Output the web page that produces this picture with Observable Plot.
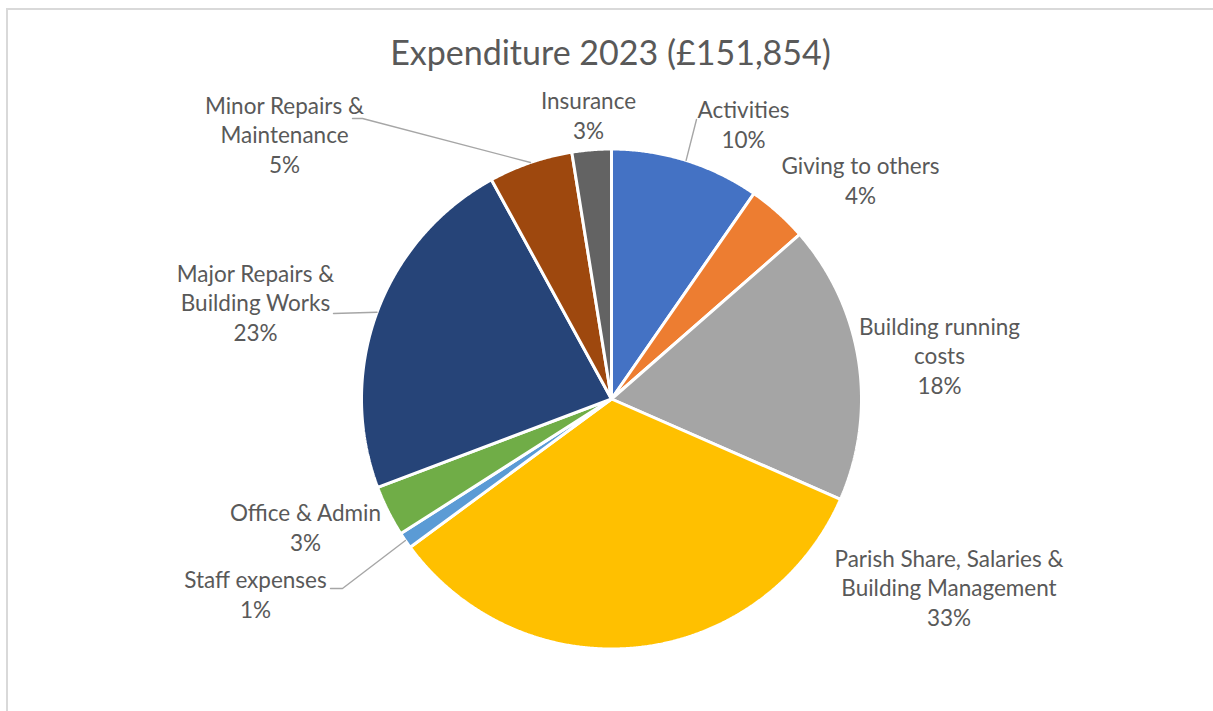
<!DOCTYPE html>
<html>
<head>
<meta charset="utf-8">
<script src="https://cdn.jsdelivr.net/npm/d3@7"></script>
<script src="https://cdn.jsdelivr.net/npm/@observablehq/plot@0.6"></script>
<style>
  html, body { margin: 0; padding: 0; background: #fff; overflow: hidden; width: 1213px; height: 711px; }
  #frame { position: absolute; left: 6px; top: 8px; width: 1205px; height: 720px; border: 2px solid #d9d9d9; background: #fff; }
  #title { position: absolute; left: 0; top: 22px; width: 1205px; text-align: center; font-family: Lato, sans-serif; font-size: 34px; line-height: 40px; color: #595959; white-space: nowrap; }
  #chart { position: absolute; left: 0; top: 72px; }
</style>
</head>
<body>
<div id="frame">
  <div id="title"></div>
  <div id="chart"></div>
</div>
<script>
// ---- data ----
const year = "2023";
const categories = [
  "Activities",
  "Giving to others",
  "Building running costs",
  "Parish Share, Salaries & Building Management",
  "Staff expenses",
  "Office & Admin",
  "Major Repairs & Building Works",
  "Minor Repairs & Maintenance",
  "Insurance"
];
const amounts = [14650, 5950, 27350, 50600, 1600, 5000, 34600, 8250, 3854];
const labelLines = [
  "Activities",
  "Giving to others",
  "Building running\ncosts",
  "Parish Share, Salaries &\nBuilding Management",
  "Staff expenses",
  "Office & Admin",
  "Major Repairs &\nBuilding Works",
  "Minor Repairs &\nMaintenance",
  "Insurance"
];
const colors = ["#4472C4", "#ED7D31", "#A5A5A5", "#FFC000", "#5B9BD5", "#70AD47", "#264478", "#9E480E", "#636363"];

// ---- layout (pixels relative to pie centre) ----
const W = 1205, H = 629, CX = 603, CY = 316.5, R = 250;
const labelAnchor = [
  [132, -251.5], [249, -195.5], [328, -5.5], [337.5, 226.5], [-356, 218.5],
  [-306, 151.5], [-356, -58.5], [-327, -226.5], [-23, -260.5]
];
const leaderAnchors = {
  0: [[85, -279.5]],
  4: [[-269, 189.5], [-281, 189.5]],
  6: [[-278, -85.5]],
  7: [[-249, -280.5], [-259, -280.5]]
};

const total = d3.sum(amounts);
document.getElementById("title").textContent =
  `Expenditure ${year} (£${d3.format(",")(total)})`;

const rows = categories.map((c, i) => ({name: c, amount: amounts[i], i}));
const arcs = d3.pie().sort(null).value(d => d.amount)(rows);

const polys = [];
for (const a of arcs) {
  polys.push({name: a.data.name, x: 0, y: 0});
  const n = Math.max(2, Math.ceil((a.endAngle - a.startAngle) / 0.005));
  for (let k = 0; k <= n; k++) {
    const t = a.startAngle + (a.endAngle - a.startAngle) * k / n;
    polys.push({name: a.data.name, x: R * Math.sin(t), y: -R * Math.cos(t)});
  }
}

const labels = arcs.map(a => {
  const i = a.data.i;
  const pct = Math.round(a.data.amount / total * 100);
  return {x: labelAnchor[i][0], y: labelAnchor[i][1], text: `${labelLines[i]}\n${pct}%`};
});

const leaders = [];
for (const a of arcs) {
  const i = a.data.i;
  if (!leaderAnchors[i]) continue;
  const m = (a.startAngle + a.endAngle) / 2;
  leaders.push({id: i, x: R * Math.sin(m), y: -R * Math.cos(m)});
  for (const p of leaderAnchors[i]) leaders.push({id: i, x: p[0], y: p[1]});
}

const chart = Plot.plot({
  width: W,
  height: H,
  margin: 0,
  style: {background: "transparent", overflow: "visible"},
  x: {domain: [-CX, W - CX], range: [0, W], axis: null},
  y: {domain: [-CY, H - CY], range: [0, H], axis: null},
  color: {domain: categories, range: colors},
  marks: [
    Plot.line(polys, {x: "x", y: "y", z: "name", fill: "name", stroke: "white", strokeWidth: 3, curve: "linear-closed", strokeLinejoin: "miter"}),
    Plot.line(leaders, {x: "x", y: "y", z: "id", stroke: "#a6a6a6", strokeWidth: 1.4, curve: "linear"}),
    Plot.text(labels, {x: "x", y: "y", text: "text", lineAnchor: "bottom", lineHeight: 1.29, fontSize: 22.5, fontFamily: "Lato, sans-serif", fill: "#595959", textAnchor: "middle"})
  ]
});
document.getElementById("chart").appendChild(chart);
</script>
</body>
</html>
